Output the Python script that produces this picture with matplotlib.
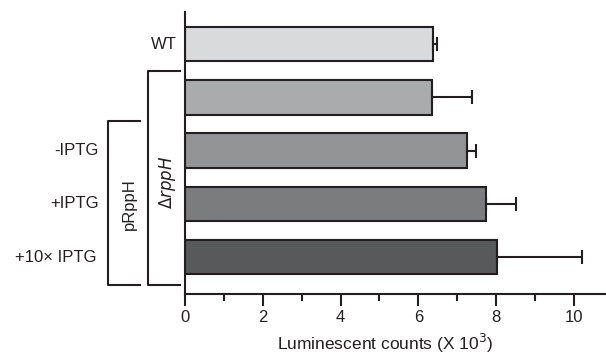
import matplotlib.pyplot as plt
import numpy as np

plt.rcParams['font.family'] = ['Liberation Sans', 'DejaVu Sans']

# data
labels = ['WT', '', '-IPTG', '+IPTG', '+10\u00d7 IPTG']
counts = [6.38, 6.34, 7.24, 7.75, 8.01]
errors = [0.11, 1.03, 0.24, 0.76, 2.20]
colors = ['#d9dadc', '#aaabad', '#939496', '#7b7c7e', '#58595b']

fig = plt.figure(figsize=(6.06, 3.55), dpi=100)
ax = fig.add_axes([0.305, 0.172, 0.695, 0.794])

ypos = np.arange(len(counts))
ax.barh(ypos, counts, height=0.65, color=colors, edgecolor='#231f20', linewidth=1.5)
ax.errorbar(counts, ypos, xerr=[np.zeros(len(errors)), errors], fmt='none',
            ecolor='#231f20', elinewidth=1.5, capsize=5, capthick=1.5)

ax.set_ylim(4.69, -0.6)
ax.set_xlim(0, 10.82)
for s in ['top', 'right']:
    ax.spines[s].set_visible(False)
ax.spines['left'].set_linewidth(1.5)
ax.spines['bottom'].set_linewidth(1.5)
ax.spines['left'].set_color('#231f20')
ax.spines['bottom'].set_color('#231f20')

ax.set_yticks([])
ax.set_xticks([0, 2, 4, 6, 8, 10])
ax.set_xticks(np.arange(1, 11, 2), minor=True)
ax.tick_params(axis='x', which='major', direction='out', length=8.5, width=1.5,
               color='#231f20', labelsize=12, labelcolor='#231f20', pad=3)
ax.tick_params(axis='x', which='minor', direction='out', length=5, width=1.5,
               color='#231f20')
ax.set_xlabel('Luminescent counts (X 10$^3$)', fontsize=12.5, color='#231f20')
ax.xaxis.set_label_coords(0.475, -0.135)

# category labels
tr = ax.get_yaxis_transform()
label_x = [-0.02, 0, -0.204, -0.204, -0.209]
for y, lab, lx in zip(ypos, labels, label_x):
    if lab:
        ax.text(lx, y, lab, transform=tr, ha='right', va='center', fontsize=12,
                color='#231f20')

# brackets
def bracket(x0, x1, y0, y1):
    ax.plot([x1, x0, x0, x1], [y0, y0, y1, y1], transform=tr, clip_on=False,
            color='#231f20', lw=1.5)

bracket(-0.088, -0.012, 0.5, 4.53)
bracket(-0.183, -0.107, 1.45, 4.53)
ax.text(-0.042, 2.6, r'$\Delta$$\it{rppH}$', transform=tr, rotation=90,
        ha='center', va='center', fontsize=12, color='#231f20')
ax.text(-0.131, 3.0, 'pRppH', transform=tr, rotation=90,
        ha='center', va='center', fontsize=12, color='#231f20')

fig.savefig('out.png', dpi=100)
